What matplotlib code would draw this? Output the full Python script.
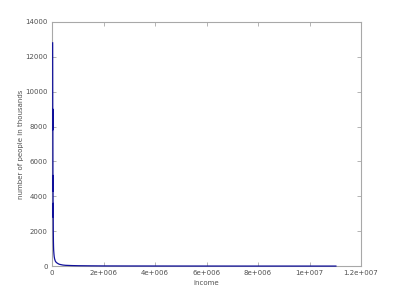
import matplotlib
matplotlib.use('Agg')
import matplotlib.pyplot as plt

# Income distribution (income bin start, number of people in thousands)
income = [0, 2500, 5000, 7500, 10000, 12500, 15000, 17500, 20000, 25000,
          30000, 35000, 40000, 50000, 60000, 75000, 90000, 100000, 125000,
          150000, 200000, 250000, 300000, 400000, 500000, 750000, 1000000,
          1500000, 2000000, 3000000, 5000000, 7500000, 11000000]
people = [12800, 11000, 7800, 9000, 6600, 4300, 5200, 2800, 3600, 2000,
          1400, 1100, 900, 700, 550, 420, 350, 300, 240,
          200, 150, 110, 90, 60, 45, 30, 22,
          15, 10, 7, 4, 2, 1]

xticks = [0, 2e6, 4e6, 6e6, 8e6, 1e7, 1.2e7]
xtick_labels = ['0', '2e+006', '4e+006', '6e+006', '8e+006', '1e+007', '1.2e+007']
yticks = [0, 2000, 4000, 6000, 8000, 10000, 12000, 14000]

fig = plt.figure(figsize=(4, 3), dpi=100)
ax = fig.add_axes([0.13, 0.113, 0.7725, 0.814])

# shift a hair right of the left spine so the spike shows like in gnuplot
ax.plot([v + 25000 for v in income], people, color='#10109a', linewidth=0.9,
        zorder=3, clip_on=False)

ax.set_xlim(0, 1.2e7)
ax.set_ylim(0, 14000)
ax.set_xticks(xticks)
ax.set_xticklabels(xtick_labels)
ax.set_yticks(yticks)

for s in ax.spines.values():
    s.set_color('#a8a8a8')
    s.set_linewidth(0.8)
ax.tick_params(direction='in', length=3, width=0.6, color='#a8a8a8',
               labelsize=5, labelcolor='#505050', top=True, right=True, pad=3)

ax.set_xlabel('income', fontsize=5, color='#505050', labelpad=3)
ax.set_ylabel('number of people in thousands', fontsize=5, color='#505050', labelpad=1)

fig.savefig('out.png', dpi=100)
